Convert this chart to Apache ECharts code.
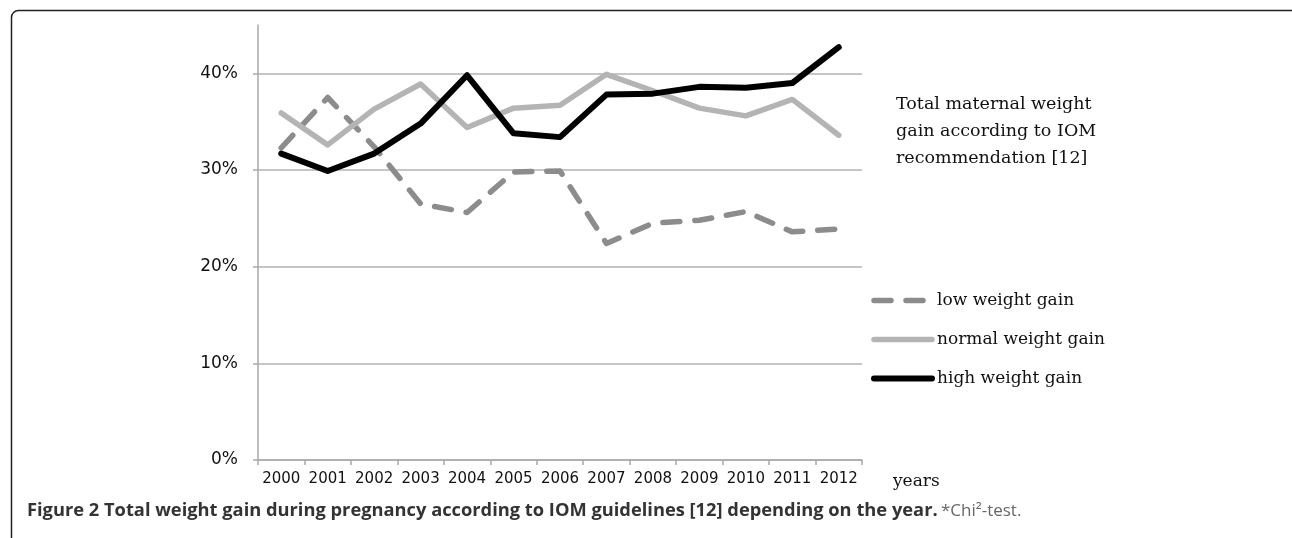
<!DOCTYPE html>
<html>
<head>
<meta charset="utf-8">
<script src="https://cdn.jsdelivr.net/npm/echarts@6/dist/echarts.min.js"></script>
<style>
html,body{margin:0;padding:0;background:#fff;}
#c{width:1292px;height:538px;}
</style>
</head>
<body>
<div id="c"></div>
<script>
const years = ['2000','2001','2002','2003','2004','2005','2006','2007','2008','2009','2010','2011','2012'];
const lowGain    = [32.3, 37.5, 32.4, 26.5, 25.6, 29.8, 29.9, 22.4, 24.5, 24.8, 25.7, 23.6, 23.9];
const normalGain = [35.9, 32.6, 36.3, 38.9, 34.4, 36.4, 36.7, 39.9, 38.2, 36.4, 35.6, 37.3, 33.6];
const highGain   = [31.7, 29.9, 31.7, 34.8, 39.8, 33.8, 33.4, 37.8, 37.9, 38.6, 38.5, 39.0, 42.7];
const yTicks = [0, 10, 20, 30, 40];
const seriesNames = ['low weight gain', 'normal weight gain', 'high weight gain'];
const boxTitle = 'Total maternal weight\ngain according to IOM\nrecommendation [12]';
const xName = 'years';
const captionBold = 'Figure 2 Total weight gain during pregnancy according to IOM guidelines [12] depending on the year.';
const captionNote = '*Chi²-test.';

const chart = echarts.init(document.getElementById('c'), null, {renderer: 'canvas'});
const serif = 'DejaVu Serif';
chart.setOption({
  animation: false,
  backgroundColor: '#fff',
  grid: {left: 258, right: 430, top: 25, bottom: 78, containLabel: false},
  xAxis: {
    type: 'category',
    data: years,
    boundaryGap: true,
    axisLine: {lineStyle: {color: '#a9a9a9', width: 1.5}},
    axisTick: {show: true, length: 5, lineStyle: {color: '#a9a9a9', width: 1.5}},
    axisLabel: {fontFamily: 'DejaVu Sans', fontSize: 15, color: '#111', margin: 12, interval: 0},
    splitLine: {show: false}
  },
  yAxis: {
    type: 'value',
    min: 0, max: 45, interval: 10,
    axisLine: {show: true, lineStyle: {color: '#a9a9a9', width: 1.5}},
    axisTick: {show: true, length: 5, customValues: yTicks, lineStyle: {color: '#a9a9a9', width: 1.5}},
    axisLabel: {customValues: yTicks, formatter: v => v + '%', fontFamily: 'DejaVu Sans', fontSize: 17, color: '#111', margin: 20},
    splitLine: {show: true, lineStyle: {color: ['#b3b3b3','#b3b3b3','#b3b3b3','#b3b3b3','#b3b3b3','rgba(0,0,0,0)'], width: 1.5}}
  },
  legend: {
    orient: 'vertical',
    left: 866, top: 287,
    itemWidth: 58, itemHeight: 18, itemGap: 22,
    itemStyle: {opacity: 0},
    textStyle: {fontFamily: serif, fontSize: 17, color: '#111'},
    data: seriesNames.map(n => ({name: n})),
    lineStyle: {width: 'inherit', type: 'inherit', cap: 'round'}
  },
  series: [
    {name: seriesNames[0], type: 'line', data: lowGain, symbol: 'none', showSymbol: false,
     lineStyle: {color: '#8c8c8c', width: 5.5, type: [17, 15], cap: 'round', join: 'round'}, itemStyle: {color: '#8c8c8c'}, z: 2},
    {name: seriesNames[1], type: 'line', data: normalGain, symbol: 'none', showSymbol: false,
     lineStyle: {color: '#b4b4b4', width: 5.5, cap: 'round', join: 'round'}, itemStyle: {color: '#b4b4b4'}, z: 3},
    {name: seriesNames[2], type: 'line', data: highGain, symbol: 'none', showSymbol: false,
     lineStyle: {color: '#000', width: 6, cap: 'round', join: 'round'}, itemStyle: {color: '#000'}, z: 4}
  ],
  graphic: [
    {type: 'rect', left: 9, top: 8, shape: {width: 1290, height: 535, r: 7}, style: {fill: 'none', stroke: '#222', lineWidth: 1.5}, silent: true},
    {type: 'text', left: 896, top: 91, style: {text: boxTitle, font: '17.5px "DejaVu Serif"', fill: '#111', lineHeight: 27}},
    {type: 'text', left: 893, top: 473, style: {text: xName, font: '17px "DejaVu Serif"', fill: '#111'}},
    {type: 'text', left: 27, top: 502, style: {
      text: '{b|' + captionBold + '} {n|' + captionNote + '}',
      rich: {
        b: {fontFamily: 'Open Sans', fontWeight: 'bold', fontSize: 18.3, fill: '#333'},
        n: {fontFamily: 'Open Sans', fontSize: 17, fill: '#666'}
      }
    }}
  ]
});
</script>
</body>
</html>
